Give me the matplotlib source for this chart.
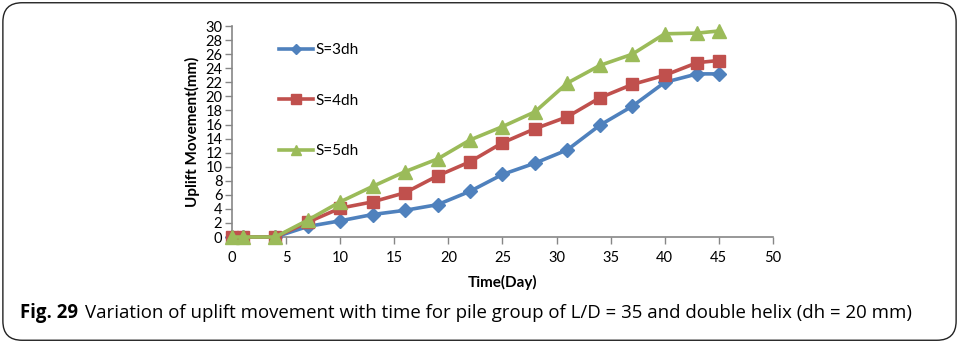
import matplotlib
matplotlib.use("Agg")
import matplotlib.pyplot as plt
from matplotlib.patches import FancyBboxPatch

days = [0, 1, 4, 7, 10, 13, 16, 19, 22, 25, 28, 31, 34, 37, 40, 43, 45]
s3dh = [0, 0, 0, 1.5, 2.3, 3.2, 3.8, 4.6, 6.5, 8.9, 10.5, 12.4, 15.9, 18.6, 22.0, 23.2, 23.2]
s4dh = [0, 0, 0, 2.1, 4.1, 5.0, 6.3, 8.7, 10.7, 13.4, 15.4, 17.1, 19.8, 21.7, 23.0, 24.8, 25.1]
s5dh = [0, 0, 0, 2.4, 5.0, 7.2, 9.3, 11.1, 13.8, 15.7, 17.8, 21.9, 24.4, 26.0, 28.9, 29.0, 29.3]
labels = ["S=3dh", "S=4dh", "S=5dh"]
xticks = list(range(0, 51, 5))
yticks = list(range(0, 31, 2))

plt.rcParams['font.family'] = ['Lato', 'DejaVu Sans']

fig = plt.figure(figsize=(9.59, 3.43), dpi=100)
ax = fig.add_axes([0.2419, 0.309, 0.5641, 0.615])

ax.plot(days, s3dh, color='#4F81BD', lw=2.6, marker='D', ms=7, label=labels[0], clip_on=False, zorder=3)
ax.plot(days, s4dh, color='#C0504D', lw=2.6, marker='s', ms=8.5, label=labels[1], clip_on=False, zorder=4)
ax.plot(days, s5dh, color='#9BBB59', lw=2.6, marker='^', ms=9.5, label=labels[2], clip_on=False, zorder=5)

ax.set_xlim(0, 50)
ax.set_ylim(0, 30)
ax.set_xticks(xticks)
ax.set_yticks(yticks)
for s in ['top', 'right']:
    ax.spines[s].set_visible(False)
for s in ['left', 'bottom']:
    ax.spines[s].set_color('#868686')
    ax.spines[s].set_linewidth(1.2)
ax.tick_params(axis='both', colors='#868686', length=5, width=1.0, labelcolor='black', labelsize=10.5)
ax.tick_params(axis='y', pad=2)
ax.tick_params(axis='x', pad=5)
ax.set_xlabel("Time(Day)", fontweight='bold', fontsize=11, labelpad=7)
ax.set_ylabel("Uplift Movement(mm)", fontweight='bold', fontsize=11, labelpad=4)

leg = ax.legend(loc='upper left', bbox_to_anchor=(0.062, 0.985), frameon=False,
                fontsize=11, labelspacing=2.4, handlelength=2.2, handletextpad=0.15,
                markerscale=0.8)

# border
fig.patches.append(FancyBboxPatch((0.003, 0.008), 0.994, 0.984, boxstyle="round,pad=0,rounding_size=0.02",
                                  transform=fig.transFigure, fill=False, edgecolor='#222222', lw=1.0,
                                  mutation_aspect=959/343))

t1 = fig.text(0.021, 0.087, "Fig. 29", fontweight='bold', fontsize=13.4, family=['Open Sans', 'DejaVu Sans'],
              va='center', ha='left')
ax.annotate("Variation of uplift movement with time for pile group of L/D = 35 and double helix (dh = 20 mm)",
            xy=(1, 0.5), xycoords=t1, xytext=(5, 0), textcoords='offset points',
            va='center', ha='left', fontsize=13.4, family=['Open Sans', 'DejaVu Sans'], annotation_clip=False)

fig.savefig("out.png", dpi=100)
